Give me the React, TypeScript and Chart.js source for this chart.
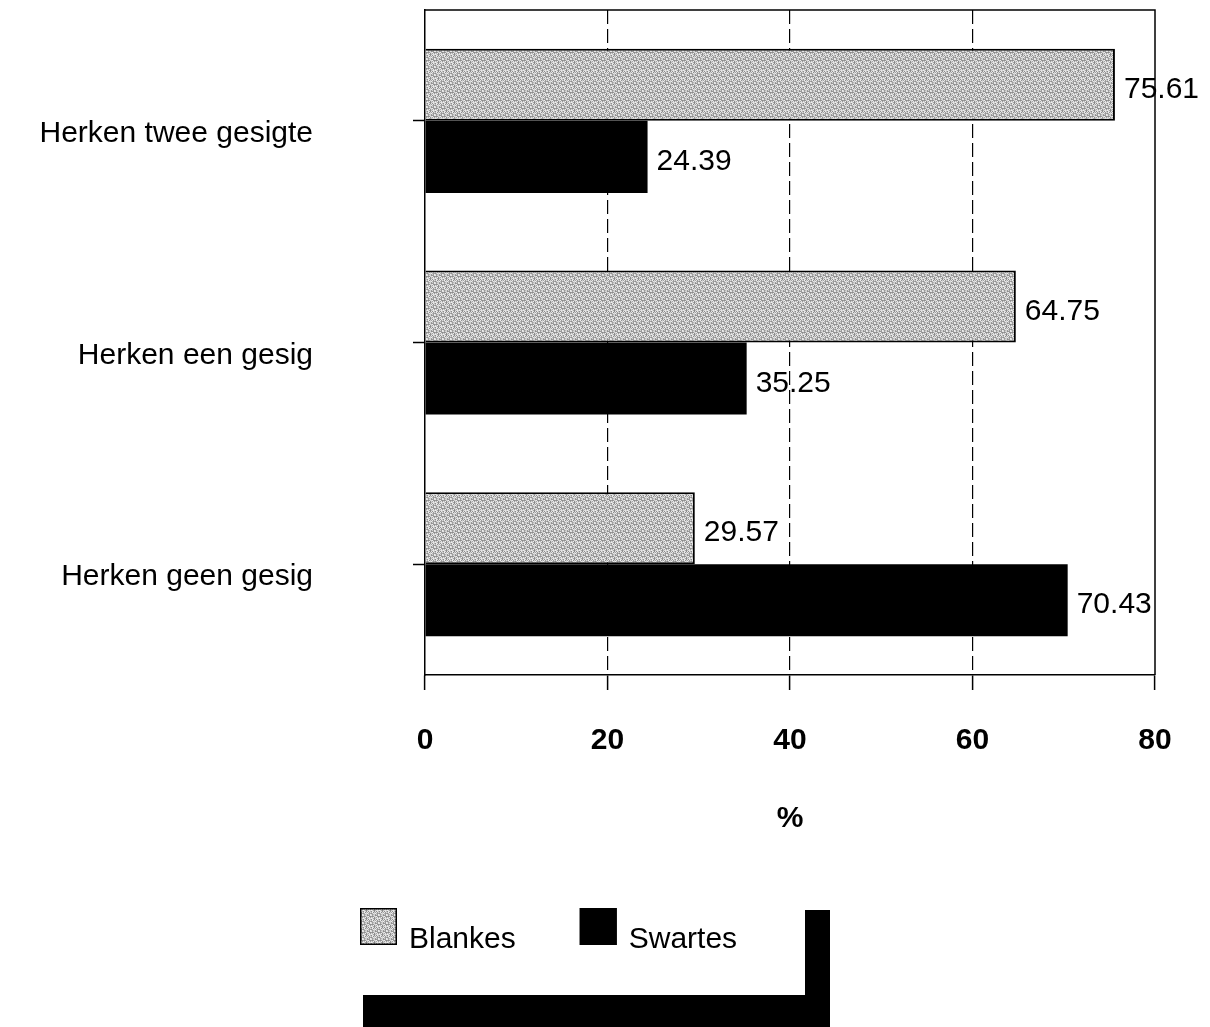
import React, { useEffect, useRef } from "react";
import { Chart, registerables } from "chart.js";

Chart.register(...registerables);

const categories = ["Herken twee gesigte", "Herken een gesig", "Herken geen gesig"];
const seriesNames = ["Blankes", "Swartes"];
const blankesValues = [75.61, 64.75, 29.57];
const swartesValues = [24.39, 35.25, 70.43];
const xMin = 0;
const xMax = 80;
const xStep = 20;
const axisTitle = "%";

const FONT = "'Liberation Sans', Arial, Helvetica, sans-serif";

function makeStipple(): CanvasPattern | string {
  const n = 8;
  const c = document.createElement("canvas");
  c.width = n;
  c.height = n;
  const g = c.getContext("2d");
  if (!g) return "#c4c4c4";
  // fine halftone-like speckle (fixed, deterministic texture)
  const shades = ["#e6e6e6", "#a4a4a4", "#d2d2d2", "#8c8c8c", "#efefef", "#b8b8b8", "#dadada", "#9a9a9a"];
  for (let y = 0; y < n; y++) {
    for (let x = 0; x < n; x++) {
      const h = (x * 7 + y * 13 + ((x * y) % 5) * 3) % shades.length;
      g.fillStyle = shades[h];
      g.fillRect(x, y, 1, 1);
    }
  }
  return g.createPattern(c, "repeat") || "#c4c4c4";
}

const valueLabels = {
  id: "valueLabels",
  afterDatasetsDraw(chart: any) {
    const ctx = chart.ctx;
    ctx.save();
    ctx.font = `30px ${FONT}`;
    ctx.fillStyle = "#000";
    ctx.textAlign = "left";
    ctx.textBaseline = "middle";
    chart.data.datasets.forEach((ds: any, di: number) => {
      const meta = chart.getDatasetMeta(di);
      meta.data.forEach((bar: any, i: number) => {
        const v = ds.data[i];
        ctx.fillText(v.toFixed(2), bar.x + 9, bar.y + 5);
      });
    });
    // top and right frame lines
    const a = chart.chartArea;
    ctx.strokeStyle = "#000";
    ctx.lineWidth = 1.5;
    ctx.beginPath();
    ctx.moveTo(a.left, a.top);
    ctx.lineTo(a.right, a.top);
    ctx.lineTo(a.right, a.bottom);
    ctx.stroke();
    ctx.restore();
  },
};

const customLegend = {
  id: "customLegend",
  afterDraw(chart: any) {
    const ctx = chart.ctx;
    ctx.save();
    ctx.font = `30px ${FONT}`;
    ctx.textBaseline = "middle";
    ctx.textAlign = "left";
    let x = 360;
    const y = 908;
    const box = 37;
    chart.data.datasets.forEach((ds: any) => {
      ctx.fillStyle = ds.backgroundColor;
      ctx.fillRect(x, y, box, box);
      ctx.strokeStyle = "#000";
      ctx.lineWidth = 1.5;
      ctx.strokeRect(x + 0.75, y + 0.75, box - 1.5, box - 1.5);
      ctx.fillStyle = "#000";
      ctx.fillText(ds.label, x + box + 12, y + 32);
      x += box + 12 + ctx.measureText(ds.label).width + 64;
    });
    // heavy black bracket below the legend (as in the scan)
    ctx.fillStyle = "#000";
    ctx.fillRect(363, 995, 467, 32);
    ctx.fillRect(805, 910, 25, 117);
    ctx.restore();
  },
};

export default function App() {
  const ref = useRef<HTMLCanvasElement | null>(null);

  useEffect(() => {
    document.body.style.margin = "0";
    const canvas = ref.current;
    if (!canvas) return;
    const stipple = makeStipple();
    const chart = new Chart(canvas, {
      type: "bar",
      data: {
        labels: categories,
        datasets: [
          {
            label: seriesNames[0],
            data: blankesValues,
            backgroundColor: stipple as any,
            borderColor: "#000",
            borderWidth: 2,
            categoryPercentage: 0.65,
            barPercentage: 1,
          },
          {
            label: seriesNames[1],
            data: swartesValues,
            backgroundColor: "#000",
            borderColor: "#000",
            borderWidth: 0,
            categoryPercentage: 0.65,
            barPercentage: 1,
          },
        ],
      },
      options: {
        indexAxis: "y",
        responsive: false,
        animation: false,
        devicePixelRatio: 1,
        layout: { padding: { top: 10, right: 55, bottom: 190, left: 0 } },
        plugins: {
          legend: { display: false },
          tooltip: { enabled: false },
        },
        scales: {
          x: {
            min: xMin,
            max: xMax,
            afterFit: (s: any) => {
              s.height = 162;
              s.paddingLeft = 0;
              s.paddingRight = 0;
            },
            ticks: {
              stepSize: xStep,
              color: "#000",
              padding: 33,
              font: { family: FONT, size: 30, weight: "bold" },
            },
            grid: {
              color: (c: any) =>
                c.tick && (c.tick.value === xMin || c.tick.value === xMax) ? "rgba(0,0,0,0)" : "#000",
              lineWidth: 1.2,
              tickColor: "#000",
              tickLength: 15,
              tickWidth: 1.5,
            },
            border: { display: true, color: "#000", width: 1.5, dash: [14, 5] },
            title: {
              display: true,
              text: axisTitle,
              color: "#000",
              font: { family: FONT, size: 30, weight: "bold" },
              padding: { top: 0, bottom: 0 },
            },
          },
          y: {
            afterFit: (s: any) => {
              s.width = 425;
              s.paddingTop = 0;
              s.paddingBottom = 0;
            },
            ticks: {
              color: "#000",
              padding: 100,
              labelOffset: 13,
              font: { family: FONT, size: 30 },
            },
            grid: {
              offset: false,
              drawOnChartArea: false,
              tickLength: 12,
              tickColor: "#000",
              tickWidth: 1.5,
            },
            border: { display: true, color: "#000", width: 1.5 },
          },
        },
      },
      plugins: [valueLabels, customLegend],
    });
    return () => chart.destroy();
  }, []);

  return <canvas ref={ref} width={1210} height={1027} style={{ display: "block" }} />;
}
